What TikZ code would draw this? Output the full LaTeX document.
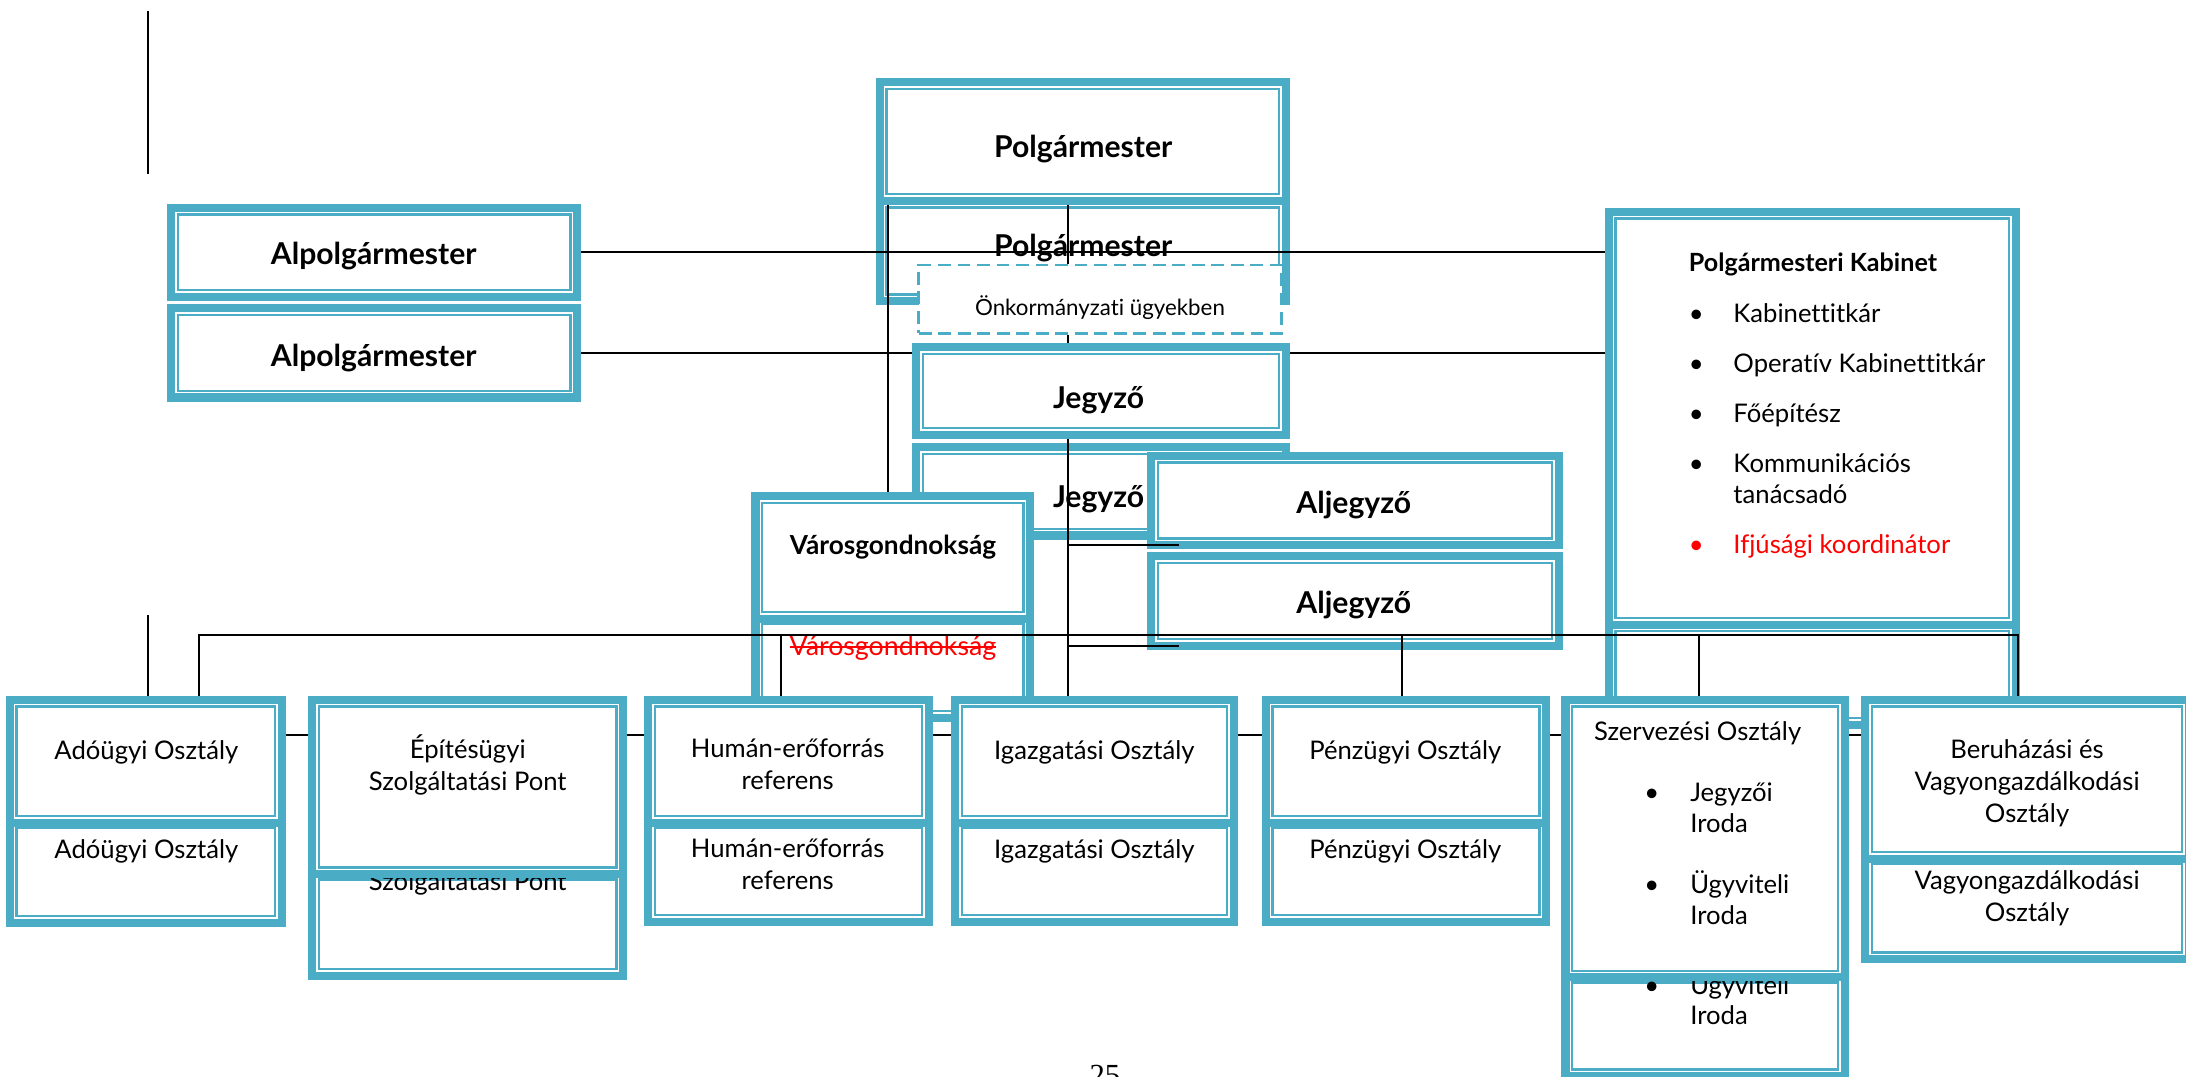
\documentclass[tikz,border=0pt]{standalone}
\usepackage{fontspec}
\setmainfont{Lato}[Ligatures=NoCommon]
\newfontfamily\pagefont{Liberation Serif}
\usetikzlibrary{positioning}
\definecolor{boxblue}{RGB}{75,172,198}
\pgfdeclarelayer{back}
\pgfdeclarelayer{mid}
\pgfsetlayers{back,mid,main}
\newlength\strikelen
\newcommand\strikeout[1]{\settowidth\strikelen{#1}\rlap{#1}\rule[0.26em]{\strikelen}{0.07em}}

\begin{document}
\begin{tikzpicture}[
    x=0.5pt, y=-0.5pt,
    orgbox/.style 2 args={draw=boxblue, line width=2.9pt, fill=white,
        inner sep=0pt, outer sep=0pt,
        minimum width=#1*0.5pt-2.9pt, minimum height=#2*0.5pt-2.9pt,
        path picture={\draw[boxblue, line width=0.8pt]
            ([shift={(2.45pt,-2.45pt)}]path picture bounding box.north west) rectangle
            ([shift={(-2.45pt,2.45pt)}]path picture bounding box.south east);}},
    dashbox/.style={draw=boxblue, line width=0.95pt, dash pattern=on 4.6pt off 2.4pt,
        fill=white, inner sep=0pt, minimum width=130pt, minimum height=24.5pt},
    head/.style={font=\bfseries\fontsize{10.8}{13}\selectfont, anchor=base, inner sep=0pt},
    txt/.style={font=\fontsize{9.2}{11.5}\selectfont, align=center, anchor=base, inner sep=0pt},
    list/.style={font=\fontsize{9.2}{11}\selectfont, align=left, anchor=base west, inner sep=0pt},
    wire/.style={line width=0.7pt},
]
    \useasboundingbox (0,0) rectangle (1568,772.5);

    % leading boxes
    \node[orgbox={297}{91}]  (polg1)   at (776.5,101.5) {};
    \node[head]              (polg1-t) at (777,113) {Polgármester};
    \node[orgbox={297}{70}]  (alpolg1) at (268.5,181) {};
    \node[head]              (alpolg1-t) at (268,190) {Alpolgármester};
    \node[orgbox={297}{70}]  (alpolg2) at (268.5,253) {};
    \node[head]              (alpolg2-t) at (268,263) {Alpolgármester};
    \node[orgbox={271}{69}]  (jegy1)   at (789.5,280.5) {};
    \node[head]              (jegy1-t) at (788,293) {Jegyző};
    \node[orgbox={203}{94}]  (varos1)  at (640.5,400) {};
    \node[head, font=\bfseries\fontsize{9.4}{11}\selectfont]
                             (varos1-t) at (640.5,398) {Városgondnokság};
    \node[orgbox={298}{302}] (kab1)    at (1300,300) {};
    \node[list]              (kab1-t)  at (1211,397) {%
        {\bfseries\fontsize{9}{11}\selectfont Polgármesteri Kabinet}\\[7pt]
        \makebox[16pt][l]{\textbullet}Kabinettitkár\\[7pt]
        \makebox[16pt][l]{\textbullet}Operatív Kabinettitkár\\[7pt]
        \makebox[16pt][l]{\textbullet}Főépítész\\[7pt]
        \makebox[16pt][l]{\textbullet}Kommunikációs\\
        \hspace*{16pt}tanácsadó\\[7pt]
        \textcolor{red}{\makebox[16pt][l]{\textbullet}Ifjúsági koordinátor}};

    % departments
    \node[orgbox={201}{94}]  (ado1)    at (104.5,546) {};
    \node[txt]               (ado1-t)  at (105,545) {Adóügyi Osztály};
    \node[orgbox={229}{131}] (epit1)   at (335.5,564.5) {};
    \node[txt]               (epit1-t) at (335.5,567) {Építésügyi\\Szolgáltatási Pont};
    \node[orgbox={207}{94}]  (human1)  at (565.5,546) {};
    \node[txt]               (human1-t) at (565,566) {Humán-erőforrás\\referens};
    \node[orgbox={206}{94}]  (igaz1)   at (785,546) {};
    \node[txt]               (igaz1-t) at (785,545) {Igazgatási Osztály};
    \node[orgbox={207}{94}]  (penz1)   at (1008.5,546) {};
    \node[txt]               (penz1-t) at (1008,545) {Pénzügyi Osztály};
    \node[orgbox={206}{205}] (szerv1)  at (1223,601.5) {};
    \node[list]              (szerv1-t) at (1143,663) {Szervezési Osztály\\[11pt]
        \hspace*{18pt}\makebox[16.5pt][l]{\textbullet}Jegyzői\\
        \hspace*{34.5pt}Iroda\\[11pt]
        \hspace*{18pt}\makebox[16.5pt][l]{\textbullet}Ügyviteli\\
        \hspace*{34.5pt}Iroda};
    \node[orgbox={238}{120}] (beru1)   at (1454,559) {};
    \node[txt]               (beru1-t) at (1454,590) {Beruházási és\\Vagyongazdálkodási\\Osztály};

    \node[font=\pagefont\fontsize{11}{13}\selectfont, anchor=base, inner sep=0pt]
                             (pagenum) at (792.5,778.6) {25};

    % repeated boxes behind
    \begin{pgfonlayer}{back}
        \node[orgbox={297}{78}]  (polg2)   at (776.5,180) {};
        \node[head]              (polg2-t) at (777,184) {Polgármester};
        \node[dashbox]           (onk)     at (789,214.5) {};
        \node[anchor=base, inner sep=0pt, font=\fontsize{8}{10}\selectfont]
                                 (onk-t)   at (789,226) {Önkormányzati ügyekben};
        \node[orgbox={271}{69}]  (jegy2)   at (789.5,352.5) {};
        \node[head]              (jegy2-t) at (788,364) {Jegyző};
        \node[orgbox={298}{70}]  (aljegy1) at (972,359) {};
        \node[head]              (aljegy1-t) at (971,368) {Aljegyző};
        \node[orgbox={298}{70}]  (aljegy2) at (972,431) {};
        \node[head]              (aljegy2-t) at (971,440) {Aljegyző};
        \node[orgbox={203}{78}]  (varos2)  at (640.5,479) {};
        \node[anchor=base, inner sep=0pt, text=red, font=\fontsize{9.6}{11}\selectfont]
                                 (varos2-t) at (640.5,470) {\strikeout{Városgondnokság}};
        \node[orgbox={298}{78}]  (kab2)    at (1300,484) {};

        \node[orgbox={201}{79}]  (ado2)    at (104.5,625.5) {};
        \node[txt]               (ado2-t)  at (105,616) {Adóügyi Osztály};
        \node[orgbox={229}{80}]  (epit2)   at (335.5,663) {};
        \node[txt]               (epit2-t) at (335.5,639) {Szolgáltatási Pont};
        \node[orgbox={207}{78}]  (human2)  at (565.5,625) {};
        \node[txt]               (human2-t) at (565,638) {Humán-erőforrás\\referens};
        \node[orgbox={206}{78}]  (igaz2)   at (785,625) {};
        \node[txt]               (igaz2-t) at (785,616) {Igazgatási Osztály};
        \node[orgbox={207}{78}]  (penz2)   at (1008.5,625) {};
        \node[txt]               (penz2-t) at (1008,616) {Pénzügyi Osztály};
        \node[orgbox={206}{78}]  (szerv2)  at (1223,736) {};
        \node[list]              (szerv2-t) at (1143,735) {%
            \hspace*{18pt}\makebox[16.5pt][l]{\textbullet}Ügyviteli\\
            \hspace*{34.5pt}Iroda};
        \node[orgbox={238}{79}]  (beru2)   at (1454,651.5) {};
        \node[txt]               (beru2-t) at (1454,661) {Vagyongazdálkodási\\Osztály};
    \end{pgfonlayer}

    % connectors
    \begin{pgfonlayer}{mid}
        \coordinate (m1)    at (106,8);
        \coordinate (m2)    at (106,125);
        \coordinate (m3)    at (106,441);
        \coordinate (spine) at (766,0);
        \coordinate (busL)  at (143,455.5);
        \coordinate (busR)  at (1447.5,455.5);
        \coordinate (gline) at ([xshift=3pt]polg1.south west);
        \coordinate (rowL)  at ([yshift=-12.5pt]ado1.north east);

        \draw[wire] (m1) -- (m2);
        \draw[wire] (m3) -- (m3 |- ado1.north);
        \draw[wire] (alpolg1.east) -- (alpolg1.east -| kab1.west);
        \draw[wire] (alpolg2.east) -- (alpolg2.east -| kab1.west);
        \draw[wire] (gline) -- (gline |- varos1.north);
        \draw[wire] (polg1.south -| spine) -- (onk.north -| spine);
        \draw[wire] (onk.south -| spine) -- (jegy1.north -| spine);
        \draw[wire] (jegy1.south -| spine) -- (igaz1.north -| spine);
        \draw[wire] (aljegy1.south west -| spine) -- ([xshift=10pt]aljegy1.south west);
        \draw[wire] (aljegy2.south west -| spine) -- ([xshift=10pt]aljegy2.south west);
        \draw[wire] (busL |- ado1.north) -- (busL) -- (busR) -- (busR |- beru1.north);
        \foreach \dept/\dx in {human1/-2.75pt, penz1/-1.4pt, szerv1/-2pt} {
            \coordinate (drop) at ([xshift=\dx]\dept.north);
            \draw[wire] (drop) -- (drop |- busL);
        }
        \draw[wire] (rowL) -- (rowL -| beru1.west);
    \end{pgfonlayer}
\end{tikzpicture}
\end{document}
